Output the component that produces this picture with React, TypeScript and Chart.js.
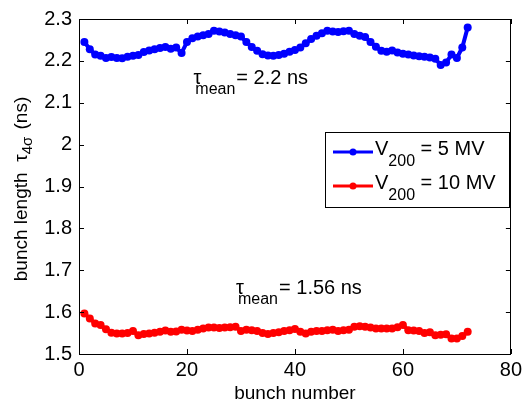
import React, { useEffect, useRef } from 'react';
import { Chart, registerables } from 'chart.js';

Chart.register(...registerables);

// bunch length tau_4sigma (ns) per bunch, V200 = 5 MV
const blueValues = [
  2.245, 2.228, 2.215, 2.212, 2.207, 2.209, 2.207, 2.206, 2.210, 2.212,
  2.214, 2.221, 2.225, 2.228, 2.231, 2.233, 2.229, 2.232, 2.219, 2.245,
  2.254, 2.258, 2.261, 2.264, 2.272, 2.270, 2.268, 2.264, 2.261, 2.258,
  2.245, 2.233, 2.224, 2.216, 2.213, 2.212, 2.214, 2.217, 2.222, 2.226,
  2.232, 2.242, 2.252, 2.260, 2.266, 2.272, 2.270, 2.269, 2.271, 2.272,
  2.264, 2.260, 2.257, 2.245, 2.234, 2.224, 2.222, 2.225, 2.220, 2.217,
  2.215, 2.213, 2.211, 2.210, 2.208, 2.205, 2.190, 2.196, 2.215, 2.207,
  2.232, 2.280,
];

// V200 = 10 MV
const redValues = [
  1.597, 1.585, 1.573, 1.569, 1.559, 1.551, 1.549, 1.549, 1.550, 1.555,
  1.545, 1.548, 1.549, 1.551, 1.553, 1.556, 1.553, 1.554, 1.558, 1.556,
  1.555, 1.558, 1.561, 1.563, 1.563, 1.562, 1.563, 1.564, 1.565, 1.555,
  1.558, 1.557, 1.555, 1.550, 1.548, 1.550, 1.552, 1.555, 1.557, 1.560,
  1.553, 1.549, 1.553, 1.555, 1.555, 1.557, 1.558, 1.555, 1.557, 1.558,
  1.565, 1.566, 1.565, 1.563, 1.561, 1.561, 1.561, 1.561, 1.564, 1.569,
  1.557, 1.556, 1.555, 1.550, 1.552, 1.545, 1.546, 1.547, 1.537, 1.537,
  1.543, 1.553,
];

const bunchNumbers = blueValues.map((_, i) => i + 1);

const xTickValues = [0, 20, 40, 60, 80];
const yTickValues = [1.5, 1.6, 1.7, 1.8, 1.9, 2.0, 2.1, 2.2, 2.3];

const seriesNames = [
  { main: 'V', sub: '200', rest: ' = 5 MV', color: '#0000ff' },
  { main: 'V', sub: '200', rest: ' = 10 MV', color: '#ff0000' },
];

const annotations = [
  { x: 21.2, y: 2.145, rest: '= 2.2 ns' },
  { x: 29.1, y: 1.644, rest: '= 1.56 ns' },
];

const FONT = '"Liberation Sans", Arial, sans-serif';

type Part = { t: string; size: number; dy?: number; dx?: number };

function partsWidth(ctx: CanvasRenderingContext2D, parts: Part[]) {
  let w = 0;
  for (const p of parts) {
    ctx.font = `${p.size}px ${FONT}`;
    w += ctx.measureText(p.t).width + (p.dx || 0);
  }
  return w;
}

function drawParts(ctx: CanvasRenderingContext2D, parts: Part[], x: number, y: number) {
  let cx = x;
  ctx.textBaseline = 'alphabetic';
  ctx.textAlign = 'left';
  for (const p of parts) {
    ctx.font = `${p.size}px ${FONT}`;
    cx += p.dx || 0;
    ctx.fillText(p.t, cx, y + (p.dy || 0));
    cx += ctx.measureText(p.t).width;
  }
}

const decorPlugin = {
  id: 'decor',
  afterDraw(chart: any) {
    const ctx: CanvasRenderingContext2D = chart.ctx;
    const { left, right, top, bottom } = chart.chartArea;
    const xs = chart.scales.x;
    const ys = chart.scales.y;
    ctx.save();
    ctx.fillStyle = '#000';
    ctx.strokeStyle = '#000';
    ctx.lineWidth = 1;
    // frame
    ctx.strokeRect(Math.round(left) + 0.5, Math.round(top) + 0.5, Math.round(right - left) - 1, Math.round(bottom - top));
    // ticks
    const tl = 5;
    ctx.beginPath();
    for (const v of xTickValues) {
      const px = Math.round(xs.getPixelForValue(v)) + 0.5;
      ctx.moveTo(px, bottom);
      ctx.lineTo(px, bottom - tl);
      ctx.moveTo(px, top);
      ctx.lineTo(px, top + tl);
    }
    for (const v of yTickValues) {
      const py = Math.round(ys.getPixelForValue(v)) + 0.5;
      ctx.moveTo(left, py);
      ctx.lineTo(left + tl, py);
      ctx.moveTo(right, py);
      ctx.lineTo(right - tl, py);
    }
    ctx.stroke();

    // x title
    ctx.font = `19px ${FONT}`;
    ctx.textAlign = 'center';
    ctx.textBaseline = 'alphabetic';
    ctx.fillText('bunch number', (left + right) / 2, 399);

    // y title (rotated)
    const yParts: Part[] = [
      { t: 'bunch length  ', size: 19 },
      { t: 'τ', size: 19 },
      { t: '4σ', size: 15, dy: 5 },
      { t: ' (ns)', size: 19, dx: 2 },
    ];
    ctx.save();
    ctx.translate(27, 189);
    ctx.rotate(-Math.PI / 2);
    const yw = partsWidth(ctx, yParts);
    drawParts(ctx, yParts, -yw / 2, 0);
    ctx.restore();

    // annotations
    for (const a of annotations) {
      const ax = xs.getPixelForValue(a.x);
      const ay = ys.getPixelForValue(a.y);
      drawParts(ctx, [
        { t: 'τ', size: 20 },
        { t: 'mean', size: 16, dy: 10, dx: -6 },
        { t: a.rest, size: 20, dx: 1 },
      ], ax, ay);
    }

    // legend
    const lx = 325, ly = 132, lw = 184, lh = 75;
    ctx.fillStyle = '#fff';
    ctx.fillRect(lx, ly, lw, lh);
    ctx.strokeStyle = '#000';
    ctx.strokeRect(lx + 0.5, ly + 0.5, lw, lh);
    seriesNames.forEach((s, i) => {
      const rowY = 152 + i * 34;
      ctx.strokeStyle = s.color;
      ctx.lineWidth = 3;
      ctx.beginPath();
      ctx.moveTo(333, rowY);
      ctx.lineTo(373, rowY);
      ctx.stroke();
      ctx.fillStyle = s.color;
      ctx.beginPath();
      ctx.arc(353, rowY, 3.5, 0, Math.PI * 2);
      ctx.fill();
      ctx.fillStyle = '#000';
      drawParts(ctx, [
        { t: s.main, size: 20 },
        { t: s.sub, size: 16, dy: 11 },
        { t: s.rest, size: 20 },
      ], 375, rowY + 3);
    });
    ctx.restore();
  },
};

export default function App() {
  const ref = useRef<HTMLCanvasElement | null>(null);
  useEffect(() => {
    if (!ref.current) return;
    const mk = (vals: number[], color: string) => ({
      data: vals.map((v, i) => ({ x: bunchNumbers[i], y: v })),
      borderColor: color,
      backgroundColor: color,
      borderWidth: 4,
      pointRadius: 4,
      pointBorderWidth: 0,
      pointBackgroundColor: color,
      tension: 0,
      fill: false,
    });
    const chart = new Chart(ref.current, {
      type: 'line',
      data: {
        datasets: [mk(blueValues, '#0000ff'), mk(redValues, '#ff0000')],
      },
      options: {
        responsive: false,
        animation: false,
        layout: { padding: { left: 0, top: 15, right: 11, bottom: 0 } },
        plugins: { legend: { display: false }, tooltip: { enabled: false } },
        scales: {
          x: {
            type: 'linear',
            min: 0,
            max: 80,
            afterFit: (s: any) => { s.height = 52; },
            afterBuildTicks: (s: any) => { s.ticks = xTickValues.map((v) => ({ value: v })); },
            grid: { display: false, drawTicks: false },
            border: { display: false },
            ticks: { color: '#000', font: { family: FONT, size: 20 }, padding: 4, maxRotation: 0 },
          },
          y: {
            type: 'linear',
            min: 1.5,
            max: 2.3,
            afterFit: (s: any) => { s.width = 79; },
            afterBuildTicks: (s: any) => { s.ticks = yTickValues.map((v) => ({ value: v })); },
            grid: { display: false, drawTicks: false },
            border: { display: false },
            ticks: {
              color: '#000',
              font: { family: FONT, size: 20 },
              padding: 7,
              callback: (v: any) => String(Math.round(Number(v) * 10) / 10),
            },
          },
        },
      },
      plugins: [decorPlugin],
    } as any);
    return () => chart.destroy();
  }, []);
  return (
    <div style={{ position: 'fixed', left: 0, top: 0, width: 526, height: 406, background: '#fff' }}>
      <canvas ref={ref} width={526} height={406} />
    </div>
  );
}
